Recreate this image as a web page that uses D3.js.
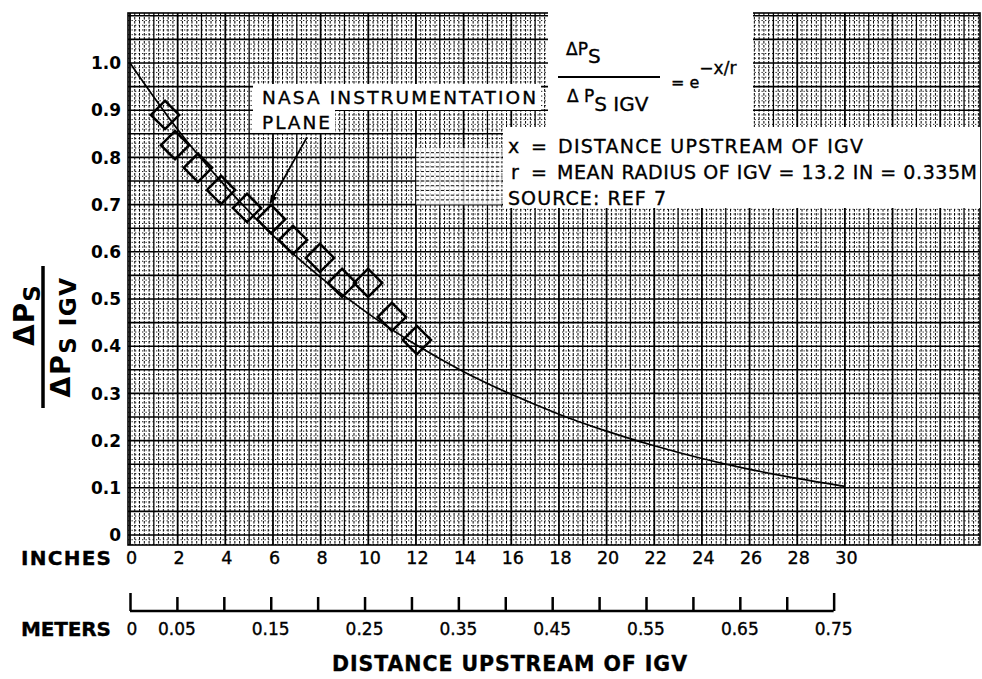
<!DOCTYPE html>
<html><head><meta charset="utf-8">
<script src="https://cdn.jsdelivr.net/npm/d3@7"></script>
<style>body{margin:0;background:#fff;} svg{display:block;font-family:"DejaVu Sans","Liberation Sans",Arial,sans-serif;} .hv{stroke:#000;stroke-width:0.35px;}</style>
</head><body><svg id="c" width="982" height="679"></svg>
<script>
// ---------- data ----------
const inchTicks = [0,2,4,6,8,10,12,14,16,18,20,22,24,26,28,30];
const meterTicks = [0,0.05,0.10,0.15,0.20,0.25,0.30,0.35,0.40,0.45,0.50,0.55,0.60,0.65,0.70,0.75];
const meterLabels = [0,0.05,0.15,0.25,0.35,0.45,0.55,0.65,0.75];
const yTicks = [0,0.1,0.2,0.3,0.4,0.5,0.6,0.7,0.8,0.9,1.0];
// measured points (inches, ratio)
const pointX = [1.47,1.89,2.85,3.82,4.91,5.92,6.84,7.97,8.90,9.99,10.99,12.04];
const pointY = [0.890,0.826,0.778,0.731,0.693,0.669,0.625,0.587,0.534,0.534,0.462,0.413];
// curve (inches, ratio)
const curveX = [0,2,4,6,8,10,12,14,16,18,20,22,24,26,28,30];
const curveY = [1.0,0.859,0.739,0.635,0.546,0.469,0.403,0.346,0.298,0.256,0.220,0.189,0.162,0.139,0.120,0.103];
// arrow annotation (inches, ratio): tail -> tip
const arrowX = [7.43, 5.88];
const arrowY = [0.843, 0.703];
const INCH_PER_M = 1/0.0254;

// ---------- layout ----------
const svg = d3.select("#c");
const L = 128, R = 980, T = 13, B = 545;
const x = d3.scaleLinear().domain([0,36]).range([130, 130 + 36*23.83]);
const y = d3.scaleLinear().domain([0,1]).range([535, 63]);
const xm = d3.scaleLinear().domain([0, 36/INCH_PER_M]).range(x.range());

const defs = svg.append("defs");
defs.append("clipPath").attr("id","plotclip")
  .append("rect").attr("x",L).attr("y",T).attr("width",R-L).attr("height",B-T);
const marker = defs.append("marker").attr("id","ah")
  .attr("viewBox","0 0 10 10").attr("refX",9).attr("refY",5)
  .attr("markerWidth",5).attr("markerHeight",5).attr("orient","auto");
marker.append("path").attr("d","M0,1 L10,5 L0,9 z").attr("fill","#000");

const g = svg.append("g").attr("clip-path","url(#plotclip)");
const xLo = x.invert(L), xHi = x.invert(R), yLo = y.invert(B), yHi = y.invert(T);

// fine grid
const fineV = d3.range(Math.ceil(xLo*5), Math.floor(xHi*5)+1).filter(i=>i%5!==0).map(i=>i/5);
const fineH = d3.range(Math.ceil(yLo*100), Math.floor(yHi*100)+1).filter(i=>i%5!==0).map(i=>i/100);
g.selectAll(".fv").data(fineV).join("line")
  .attr("x1",d=>x(d)).attr("x2",d=>x(d)).attr("y1",T).attr("y2",B)
  .attr("stroke","#000").attr("stroke-width",1).attr("stroke-dasharray","2.6,1.4");
g.selectAll(".fh").data(fineH).join("line")
  .attr("y1",d=>y(d)).attr("y2",d=>y(d)).attr("x1",L).attr("x2",R)
  .attr("stroke","#000").attr("stroke-width",0.9).attr("stroke-dasharray","1.3,2.2");
// major grid
const majV = d3.range(Math.ceil(xLo), Math.floor(xHi)+1);
const majH = d3.range(Math.ceil(yLo*20), Math.floor(yHi*20)+1).map(i=>i/20);
g.selectAll(".mv").data(majV).join("line")
  .attr("x1",d=>x(d)).attr("x2",d=>x(d)).attr("y1",T).attr("y2",B)
  .attr("stroke","#000").attr("stroke-width",d=>d%2===0?1.8:1.3);
g.selectAll(".mh").data(majH).join("line")
  .attr("y1",d=>y(d)).attr("y2",d=>y(d)).attr("x1",L).attr("x2",R)
  .attr("stroke","#000").attr("stroke-width",1.6);

// partially erased patch
g.append("rect").attr("x",x(12.0)).attr("y",y(0.82)).attr("width",x(15.6)-x(12.0)).attr("height",y(0.70)-y(0.82))
  .attr("fill","#fff").attr("opacity",0.75);
g.selectAll(".eh").data(d3.range(71,82).map(i=>i/100)).join("line")
  .attr("x1",x(12.0)).attr("x2",x(15.6)).attr("y1",d=>y(d)).attr("y2",d=>y(d))
  .attr("stroke","#111").attr("stroke-width",1).attr("stroke-dasharray","3,2");

// plot border
svg.append("rect").attr("x",L).attr("y",T).attr("width",R-L).attr("height",B-T)
  .attr("fill","none").attr("stroke","#000").attr("stroke-width",1.6);

// white label areas
const wb = [[548,12,205,116],[503,127,477,81],[253,84,288,26],[253,108,82,25]];
svg.selectAll(".wb").data(wb).join("rect")
  .attr("x",d=>d[0]).attr("y",d=>d[1]).attr("width",d=>d[2]).attr("height",d=>d[3]).attr("fill","#fff");

// curve
const cdata = curveX.map((v,i)=>[v,curveY[i]]);
svg.append("path").datum(cdata)
  .attr("d", d3.line().x(d=>x(d[0])).y(d=>y(d[1])).curve(d3.curveMonotoneX))
  .attr("fill","none").attr("stroke","#000").attr("stroke-width",1.7);

// diamonds
const pdata = pointX.map((v,i)=>[v,pointY[i]]);
const sym = d3.symbol().type(d3.symbolSquare).size(400);
svg.selectAll(".pt").data(pdata).join("path")
  .attr("d", sym)
  .attr("transform", d=>`translate(${x(d[0])},${y(d[1])}) rotate(45)`)
  .attr("fill","none").attr("stroke","#000").attr("stroke-width",2.5);

// arrow
svg.append("line").attr("x1",x(arrowX[0])).attr("y1",y(arrowY[0])).attr("x2",x(arrowX[1])).attr("y2",y(arrowY[1]))
  .attr("stroke","#000").attr("stroke-width",1.8).attr("marker-end","url(#ah)");

// annotation text
const txt = (s,xx,yy,size,weight,anchor,len)=>{
  const t = svg.append("text").attr("x",xx).attr("y",yy).attr("class","hv")
    .attr("font-size",size).attr("font-weight",weight||"normal").attr("text-anchor",anchor||"start").text(s);
  if(len) t.attr("textLength",len).attr("lengthAdjust","spacing");
  return t;
};
txt("NASA INSTRUMENTATION",262,104,18.5,"normal","start",274);
txt("PLANE",262,129,18.5,"normal","start",68);

// formula
const f1 = svg.append("text").attr("class","hv").attr("x",566).attr("y",55).attr("font-size",17);
f1.append("tspan").text("ΔP");
f1.append("tspan").attr("font-size",20).attr("dy",8).text("S");
svg.append("line").attr("x1",558).attr("x2",660).attr("y1",77).attr("y2",77).attr("stroke","#000").attr("stroke-width",2);
const f2 = svg.append("text").attr("class","hv").attr("x",567).attr("y",102).attr("font-size",17);
f2.append("tspan").text("Δ P");
f2.append("tspan").attr("font-size",20).attr("dy",9).text("S IGV");
const f3 = svg.append("text").attr("class","hv").attr("x",671).attr("y",88).attr("font-size",16);
f3.append("tspan").text("= e");
f3.append("tspan").attr("dy",-14).attr("font-size",17).text("−x/r");

txt("x",508,153,19); txt("=",531,153,19);
txt("DISTANCE UPSTREAM OF IGV",558,153,19,"normal","start",305);
txt("r",511,179,19); txt("=",531,179,19);
txt("MEAN RADIUS OF IGV = 13.2 IN = 0.335M",557,179,19,"normal","start",420);
txt("SOURCE:  REF 7",508,205,19,"normal","start",158);

// y axis labels
svg.selectAll(".yl").data(yTicks).join("text")
  .attr("x",121).attr("y",d=>y(d)).attr("dy","0.36em").attr("text-anchor","end")
  .attr("font-size",17).attr("font-weight","bold").text(d=>d===0?"0":d3.format(".1f")(d));

// y title (rotated fraction)
const yt = svg.append("g").attr("transform","translate(43,337) rotate(-90)");
const n = yt.append("text").attr("x",22).attr("y",-9).attr("text-anchor","middle").attr("font-size",28).attr("font-weight","bold").attr("letter-spacing",1);
n.append("tspan").text("ΔP");
n.append("tspan").attr("font-size",23).attr("dy",6).text("S");
yt.append("line").attr("x1",-71).attr("x2",71).attr("y1",0).attr("y2",0).attr("stroke","#000").attr("stroke-width",3.5);
const dd = yt.append("text").attr("x",0).attr("y",27).attr("text-anchor","middle").attr("font-size",27).attr("font-weight","bold").attr("letter-spacing",1.5);
dd.append("tspan").text("ΔP");
dd.append("tspan").attr("font-size",23).attr("dy",6).text("S IGV");

// inches axis
svg.selectAll(".xl").data(inchTicks).join("text").attr("class","hv")
  .attr("x",d=>x(d)+1.5).attr("y",564).attr("text-anchor","middle").attr("font-size",17.5).text(d=>d);
txt("INCHES",21,565,20,"bold","start",90);

// meters axis
const ma = svg.append("g").attr("transform","translate(0,611)")
  .call(d3.axisTop(xm).tickValues(meterTicks).tickSize(14).tickFormat(""));
ma.select(".domain").attr("d",`M${xm(0)},0H${xm(0.75)}`).attr("stroke","#000").attr("stroke-width",2.5);
ma.selectAll(".tick line").attr("stroke","#000").attr("stroke-width",2.5)
  .attr("y2",d=>(d===0||d===0.75)?-18:-14);
svg.selectAll(".ml").data(meterLabels).join("text").attr("class","hv")
  .attr("x",d=>xm(d)+(d===0?2:0)).attr("y",635).attr("text-anchor","middle").attr("font-size",17).text(d=>d===0?"0":d3.format(".2f")(d));
txt("METERS",21,636,20,"bold","start",90);

txt("DISTANCE UPSTREAM OF IGV",332,671,20.5,"bold","start",355);
</script></body></html>
